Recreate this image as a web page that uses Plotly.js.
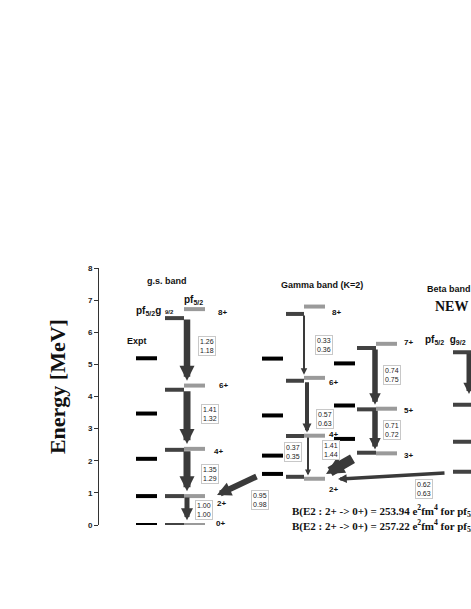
<!DOCTYPE html>
<html>
<head>
<meta charset="utf-8">
<script src="https://cdn.plot.ly/plotly-3.0.1.min.js"></script>
<style>
  html, body { margin: 0; padding: 0; background: #fff; }
  #plot { width: 471px; height: 609px; }
</style>
</head>
<body>
<div id="plot"></div>
<script>
// Level energies in MeV
const gsSpins = ['0+', '2+', '4+', '6+', '8+'];
const gsExpt = [0, 0.90, 2.06, 3.47, 5.19];
const gsPfg = [0, 0.90, 2.34, 4.21, 6.44];   // pf5/2 g9/2 space
const gsPf = [0, 0.90, 2.37, 4.34, 6.72];    // pf5/2 space

const gamEvenSpins = ['2+', '4+', '6+', '8+'];
const gamEvenExpt = [1.59, 2.16, 3.41, 5.18];
const gamEvenPfg = [1.50, 2.77, 4.49, 6.57];
const gamEvenPf = [1.44, 2.78, 4.58, 6.80];

const gamOddSpins = ['3+', '5+', '7+'];
const gamOddExpt = [2.68, 3.72, 5.03];
const gamOddPfg = [2.25, 3.60, 5.51];
const gamOddPf = [2.23, 3.62, 5.64];

const betaPfg = [1.66, 2.59, 3.74, 5.38];

// B(E2) ratios (pfg / pf), lowest transition first
const gsRatioPfg = [1.00, 1.35, 1.41, 1.26];
const gsRatioPf = [1.00, 1.29, 1.32, 1.18];
const gamEvenRatioPfg = [0.37, 0.57, 0.33];
const gamEvenRatioPf = [0.35, 0.63, 0.36];
const gamOddRatioPfg = [0.71, 0.74];
const gamOddRatioPf = [0.72, 0.75];
// gamma 2+ -> g.s. 2+, gamma 3+ -> gamma 2+, beta 2+ -> gamma 2+
const crossRatioPfg = [0.95, 1.41, 0.62];
const crossRatioPf = [0.98, 1.44, 0.63];

const BE2pfg = 253.94;
const BE2pf = 257.22;

// colours
const cExpt = '#000000';
const cDark = '#424242';
const cLight = '#9a9a9a';
const cArrow = '#3a3a3a';

// horizontal placement of each column (x axis runs in pixel-like units)
const levelCols = [
    { e: gsExpt, x0: 136, x1: 157, color: cExpt },
    { e: gsPfg, x0: 165, x1: 184, color: cDark },
    { e: gsPf, x0: 184, x1: 205, color: cLight },
    { e: gamEvenExpt, x0: 262, x1: 283, color: cExpt },
    { e: gamEvenPfg, x0: 286, x1: 304, color: cDark },
    { e: gamEvenPf, x0: 304, x1: 325, color: cLight },
    { e: gamOddExpt, x0: 334, x1: 355, color: cExpt },
    { e: gamOddPfg, x0: 357, x1: 376, color: cDark },
    { e: gamOddPf, x0: 376, x1: 397, color: cLight },
    { e: betaPfg, x0: 453, x1: 490, color: cDark }
];

const traces = levelCols.map(col => {
    const xs = [], ys = [];
    col.e.forEach(v => { xs.push(col.x0, col.x1, null); ys.push(v, v, null); });
    return {
        x: xs, y: ys, type: 'scatter', mode: 'lines',
        line: { color: col.color, width: 4 },
        hoverinfo: 'skip', cliponaxis: false, showlegend: false
    };
});

const annotations = [];

// arrow helper: tail (ax, ay) -> head (x, y)
function arrow(ax, ay, x, y, w, size) {
    annotations.push({
        x: x, y: y, ax: ax, ay: ay, xref: 'x', yref: 'y', axref: 'x', ayref: 'y',
        text: '', showarrow: true, arrowhead: 2, arrowcolor: cArrow,
        arrowwidth: w, arrowsize: size, standoff: 0
    });
}

function box(x, y, a, b) {
    annotations.push({
        x: x, y: y, xref: 'x', yref: 'y', showarrow: false,
        text: a.toFixed(2) + '<br>' + b.toFixed(2),
        font: { family: 'Arial', size: 7, color: '#222' },
        bordercolor: '#c8c8c8', borderwidth: 1, borderpad: 1, bgcolor: '#fff'
    });
}

function label(x, y, text, opts) {
    annotations.push(Object.assign({
        x: x, y: y, xref: 'x', yref: 'y', showarrow: false, text: text,
        font: { family: 'Arial', size: 8, color: '#111', weight: 'bold' }
    }, opts || {}));
}

// g.s. band transitions
const gsArrowW = [5, 7, 7, 6.5];
const gsArrowS = [0.48, 0.43, 0.43, 0.46];
const gsBoxX = [203.5, 210, 210, 207];
const gsBoxY = [0.46, 1.59, 3.47, 5.57];
for (let i = 1; i < gsPfg.length; i++) {
    arrow(187, gsPfg[i], 187, gsPf[i - 1] + 0.15, gsArrowW[i - 1], gsArrowS[i - 1]);
    box(gsBoxX[i - 1], gsBoxY[i - 1], gsRatioPfg[i - 1], gsRatioPf[i - 1]);
}

// gamma band even spins
const gamEvenArrowX = [308, 307, 304];
const gamEvenArrowW = [2, 4, 2];
const gamEvenArrowS = [0.6, 0.45, 0.65];
const gamEvenBoxX = [292.5, 325.3, 324.3];
const gamEvenBoxY = [2.26, 3.31, 5.59];
for (let i = 1; i < gamEvenPfg.length; i++) {
    const xa = gamEvenArrowX[i - 1];
    arrow(xa, gamEvenPfg[i], xa, gamEvenPf[i - 1] + 0.1, gamEvenArrowW[i - 1], gamEvenArrowS[i - 1]);
    box(gamEvenBoxX[i - 1], gamEvenBoxY[i - 1], gamEvenRatioPfg[i - 1], gamEvenRatioPf[i - 1]);
}

// gamma band odd spins
const gamOddBoxY = [2.96, 4.68];
for (let i = 1; i < gamOddPfg.length; i++) {
    arrow(375, gamOddPfg[i], 375, gamOddPf[i - 1] + 0.12, 5.5, 0.42);
    box(391.5, gamOddBoxY[i - 1], gamOddRatioPfg[i - 1], gamOddRatioPf[i - 1]);
}

// inter-band transitions
arrow(258, gamEvenPfg[0] + 0.03, 217, gsPf[1] + 0.03, 6, 0.47);
box(260, 0.79, crossRatioPfg[0], crossRatioPf[0]);
arrow(354, gamOddPfg[0] - 0.16, 326, gamEvenPf[0] + 0.15, 10, 0.36);
box(331, 2.34, crossRatioPfg[1], crossRatioPf[1]);
arrow(446, betaPfg[0] - 0.04, 338, gamEvenPf[0] - 0.01, 3.5, 0.5);
box(424, 1.13, crossRatioPfg[2], crossRatioPf[2]);
// beta band top transition (cut at the page edge)
arrow(469, betaPfg[3], 469, 4.08, 5, 0.45);

// spin labels
const gsSpinX = [220, 221, 218, 223, 222];
const gsSpinY = [0.06, 0.68, 2.28, 4.34, 6.60];
gsSpins.forEach((s, i) => label(gsSpinX[i], gsSpinY[i], s));
const gamEvenSpinY = [1.09, 2.83, 4.45, 6.60];
const gamEvenSpinX = [333, 333, 333, 336];
gamEvenSpins.forEach((s, i) => label(gamEvenSpinX[i], gamEvenSpinY[i], s));
const gamOddSpinY = [2.15, 3.55, 5.67];
gamOddSpins.forEach((s, i) => label(408, gamOddSpinY[i], s));

// headings
label(167, 7.60, 'g.s. band', { font: { family: 'Arial', size: 9, color: '#111', weight: 'bold' } });
label(322, 7.47, 'Gamma band (K=2)', { font: { family: 'Arial', size: 9, color: '#111', weight: 'bold' } });
label(425, 7.35, 'Beta band', { xanchor: 'left', font: { family: 'Arial', size: 9, color: '#111', weight: 'bold' } });
label(433, 6.79, 'NEW', { xanchor: 'left', font: { family: 'Liberation Serif', size: 14, color: '#111', weight: 'bold' } });
label(137, 5.73, 'Expt', { font: { family: 'Arial', size: 9, color: '#111', weight: 'bold' } });
label(134, 6.67, 'pf<sub>5/2</sub>g', { xanchor: 'left', font: { family: 'Arial', size: 10, color: '#111', weight: 'bold' } });
label(169.5, 6.62, '9/2', { font: { family: 'Arial', size: 6, color: '#111', weight: 'bold' } });
label(182, 7.0, 'pf<sub>5/2</sub>', { xanchor: 'left', font: { family: 'Arial', size: 10, color: '#111', weight: 'bold' } });
label(423, 5.76, 'pf<sub>5/2</sub>  g<sub>9/2</sub>', { xanchor: 'left', font: { family: 'Arial', size: 10, color: '#111', weight: 'bold' } });

// B(E2) summary lines
label(290, 0.44, 'B(E2 : 2+ -> 0+) = ' + BE2pfg.toFixed(2) + ' e<sup>2</sup>fm<sup>4</sup> for pf<sub>5/2</sub>g<sub>9/2</sub>',
    { xanchor: 'left', font: { family: 'Liberation Serif', size: 11, color: '#111', weight: 'bold' } });
label(290, 0.01, 'B(E2 : 2+ -> 0+) = ' + BE2pf.toFixed(2) + ' e<sup>2</sup>fm<sup>4</sup> for pf<sub>5/2</sub>',
    { xanchor: 'left', yshift: -1, font: { family: 'Liberation Serif', size: 11, color: '#111', weight: 'bold' } });

// axis title, placed as a rotated annotation so it sits where the original has it
annotations.push({
    xref: 'paper', yref: 'paper', x: -0.11, y: 0.537, xanchor: 'center', yanchor: 'middle',
    showarrow: false, textangle: -90, text: 'Energy [MeV]',
    font: { family: 'Liberation Serif', size: 22, color: '#111', weight: 'bold' }
});

const layout = {
    width: 471,
    height: 609,
    margin: { l: 99, r: 0, t: 268, b: 84, pad: 0 },
    paper_bgcolor: '#fff',
    plot_bgcolor: 'rgba(0,0,0,0)',
    showlegend: false,
    xaxis: { range: [99, 471], visible: false, fixedrange: true },
    yaxis: {
        range: [0, 8],
        dtick: 1,
        showgrid: false,
        zeroline: false,
        showline: true,
        linecolor: '#333',
        linewidth: 1,
        ticks: 'outside',
        ticklen: 4,
        tickcolor: '#333',
        tickfont: { family: 'Arial', size: 8, color: '#222', weight: 'bold' },
        fixedrange: true
    },
    annotations: annotations
};

Plotly.newPlot('plot', traces, layout, { displayModeBar: false, staticPlot: true });
</script>
</body>
</html>
